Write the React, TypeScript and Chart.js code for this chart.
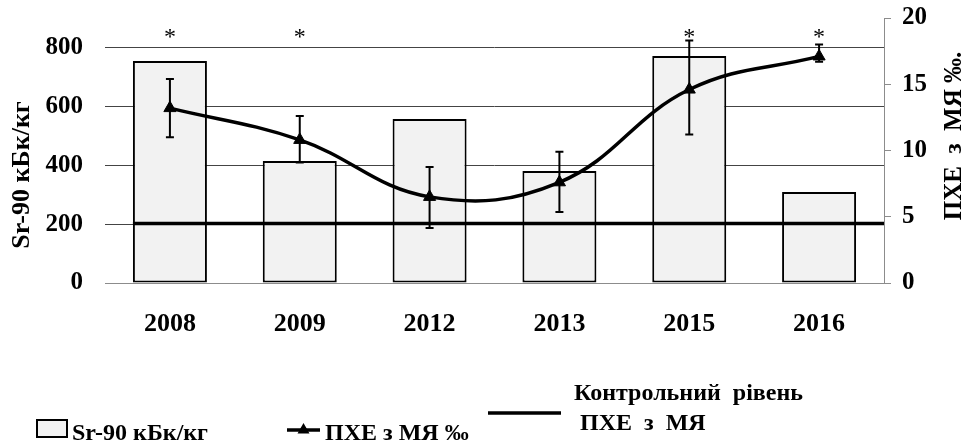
import React, { useEffect, useRef } from "react";
import { Chart, registerables } from "chart.js";

Chart.register(...registerables);

// Роки спостережень
const years = ["2008", "2009", "2012", "2013", "2015", "2016"];
// Вміст Sr-90, кБк/кг
const sr90 = [754, 414, 557, 380, 771, 309];
// Частота клітин з мікроядрами, ‰
const phe = [13.2, 10.8, 6.5, 7.6, 14.6, 17.1];
const pheLow = [11.0, 9.1, 4.15, 5.35, 11.2, 16.7];
const pheHigh = [15.4, 12.6, 8.75, 9.9, 18.3, 18.0];
// Статистично значущі відмінності (*)
const significant = [true, true, false, false, true, true];
const starLevel = 850; // висота позначок * на шкалі кБк/кг
// Контрольний рівень ПХЕ з МЯ, ‰
const controlLevel = 4.5;

const leftMax = 900;
const leftStep = 200;
const leftLabelMax = 800;
const rightMax = 20;
const rightStep = 5;

const SERIF = '"Liberation Serif", "Times New Roman", serif';
const boldFont = (size: number) => `bold ${size}px ${SERIF}`;

const overlay = {
  id: "overlay",
  afterDatasetDraw(chart: any, args: any) {
    // контрольний рівень — поверх стовпчиків, під лінією
    if (args.index !== 1) return;
    const { ctx, chartArea, scales } = chart;
    const bars = chart.getDatasetMeta(1).data;
    const first = bars[0];
    const y = scales.y1.getPixelForValue(controlLevel);
    ctx.save();
    ctx.strokeStyle = "#000";
    ctx.lineWidth = 3.5;
    ctx.beginPath();
    ctx.moveTo(first.x - first.width / 2, y);
    ctx.lineTo(chartArea.right, y);
    ctx.stroke();
    ctx.restore();
  },
  afterDatasetsDraw(chart: any) {
    const { ctx, scales } = chart;
    const pts = chart.getDatasetMeta(0).data;
    ctx.save();
    ctx.strokeStyle = "#000";
    ctx.lineWidth = 2;
    pts.forEach((p: any, i: number) => {
      const yl = scales.y1.getPixelForValue(pheLow[i]);
      const yh = scales.y1.getPixelForValue(pheHigh[i]);
      ctx.beginPath();
      ctx.moveTo(p.x, yl);
      ctx.lineTo(p.x, yh);
      ctx.moveTo(p.x - 4, yl);
      ctx.lineTo(p.x + 4, yl);
      ctx.moveTo(p.x - 4, yh);
      ctx.lineTo(p.x + 4, yh);
      ctx.stroke();
    });
    ctx.restore();
  },
  afterDraw(chart: any) {
    const { ctx, scales } = chart;
    ctx.save();
    ctx.fillStyle = "#000";

    // позначки *
    ctx.font = `24px ${SERIF}`;
    ctx.textAlign = "center";
    ctx.textBaseline = "alphabetic";
    const sy = scales.y.getPixelForValue(starLevel);
    significant.forEach((s, i) => {
      if (!s) return;
      ctx.fillText("*", scales.x.getPixelForValue(i), sy + 11);
    });

    // назви осей
    ctx.textBaseline = "middle";
    ctx.font = boldFont(26);
    ctx.save();
    ctx.translate(22, 175);
    ctx.rotate(-Math.PI / 2);
    ctx.fillText("Sr-90 кБк/кг", 0, 0);
    ctx.restore();
    ctx.font = boldFont(25);
    ctx.save();
    ctx.translate(955, 136);
    ctx.rotate(-Math.PI / 2);
    ctx.fillText("ПХЕ  з  МЯ ‰.", 0, 0);
    ctx.restore();

    // легенда
    ctx.textAlign = "left";
    ctx.textBaseline = "alphabetic";
    ctx.font = boldFont(24);

    ctx.fillStyle = "#f2f2f2";
    ctx.fillRect(37, 420, 30, 17);
    ctx.strokeStyle = "#000";
    ctx.lineWidth = 2;
    ctx.strokeRect(37, 420, 30, 17);
    ctx.fillStyle = "#000";
    ctx.fillText("Sr-90 кБк/кг", 72, 440);

    ctx.lineWidth = 3.5;
    ctx.beginPath();
    ctx.moveTo(287, 430);
    ctx.lineTo(320, 430);
    ctx.stroke();
    ctx.beginPath();
    ctx.moveTo(303.5, 423);
    ctx.lineTo(309.5, 433.5);
    ctx.lineTo(297.5, 433.5);
    ctx.closePath();
    ctx.fill();
    ctx.fillText("ПХЕ з МЯ ‰", 325, 440);

    ctx.beginPath();
    ctx.moveTo(488, 413);
    ctx.lineTo(561, 413);
    ctx.stroke();
    ctx.fillText("Контрольний  рівень", 574, 400);
    ctx.fillText("ПХЕ  з  МЯ", 580, 430);

    ctx.restore();
  },
};

export default function App() {
  const ref = useRef<HTMLCanvasElement>(null);

  useEffect(() => {
    const chart = new Chart(ref.current as HTMLCanvasElement, {
      type: "bar",
      data: {
        labels: years,
        datasets: [
          {
            type: "line",
            label: "ПХЕ з МЯ ‰",
            data: phe,
            yAxisID: "y1",
            borderColor: "#000",
            borderWidth: 3.5,
            tension: 0.4,
            pointStyle: "triangle",
            pointRadius: 7,
            pointBackgroundColor: "#000",
            pointBorderColor: "#000",
            pointBorderWidth: 1,
            order: 0,
          } as any,
          {
            type: "bar",
            label: "Sr-90 кБк/кг",
            data: sr90,
            yAxisID: "y",
            backgroundColor: "#f2f2f2",
            borderColor: "#000",
            borderWidth: 2,
            borderSkipped: false,
            barPercentage: 0.57,
            categoryPercentage: 1,
            order: 1,
          } as any,
        ],
      },
      options: {
        responsive: false,
        animation: false,
        layout: { padding: { top: 18, left: 0, right: 0, bottom: 0 } },
        plugins: {
          legend: { display: false },
          tooltip: { enabled: false },
        },
        scales: {
          x: {
            grid: { display: false, drawTicks: false },
            border: { display: true, color: "#8c8c8c", width: 1 },
            ticks: { font: { family: SERIF, size: 26, weight: "bold" }, color: "#000", padding: 26 },
            afterFit(s: any) {
              s.height = 158;
            },
          },
          y: {
            position: "left",
            min: 0,
            max: leftMax,
            ticks: {
              stepSize: leftStep,
              font: { family: SERIF, size: 25, weight: "bold" },
              color: "#000",
              padding: 22,
            },
            afterBuildTicks(s: any) {
              s.ticks = s.ticks.filter((t: any) => t.value <= leftLabelMax);
            },
            grid: {
              drawTicks: false,
              lineWidth: 1,
              color: (c: any) => (c.tick && c.tick.value === 0 ? "rgba(0,0,0,0)" : "#444"),
            },
            border: { display: false },
            afterFit(s: any) {
              s.width = 105;
              s.paddingTop = 0;
              s.paddingBottom = 0;
            },
          },
          y1: {
            position: "right",
            min: 0,
            max: rightMax,
            ticks: {
              stepSize: rightStep,
              font: { family: SERIF, size: 25, weight: "bold" },
              color: "#000",
              padding: 11,
            },
            grid: { drawOnChartArea: false, color: "#8c8c8c", tickLength: 7 },
            border: { display: true, color: "#8c8c8c", width: 1 },
            afterFit(s: any) {
              s.width = 79;
              s.paddingTop = 0;
              s.paddingBottom = 0;
            },
          },
        },
      } as any,
      plugins: [overlay],
    });
    return () => chart.destroy();
  }, []);

  return (
    <div style={{ position: "fixed", left: 0, top: 0, width: 963, height: 441, background: "#fff" }}>
      <canvas ref={ref} width={963} height={441} style={{ display: "block", width: 963, height: 441 }} />
    </div>
  );
}
